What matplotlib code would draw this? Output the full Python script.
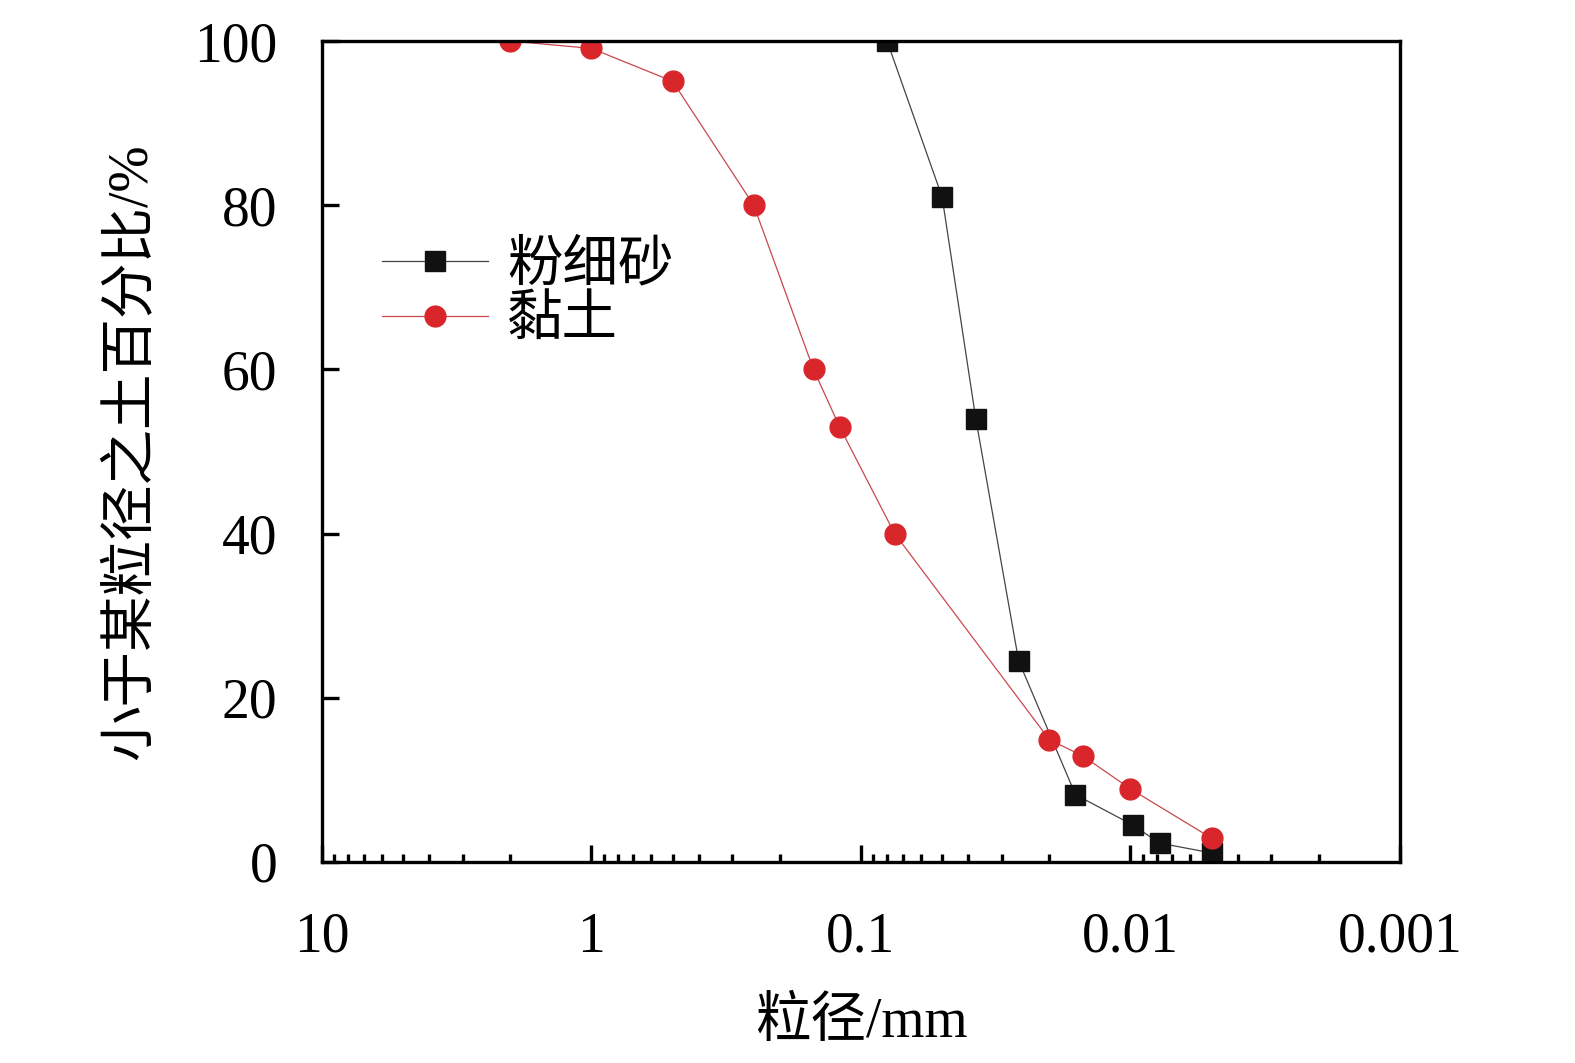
import matplotlib
matplotlib.use("Agg")
import matplotlib.pyplot as plt
from matplotlib.ticker import LogLocator, NullFormatter, FixedLocator

plt.rcParams['font.family'] = ['Liberation Serif', 'Noto Sans CJK SC']

sand_x = [0.08, 0.05, 0.0375, 0.026, 0.016, 0.0098, 0.0078, 0.005]
sand_y = [100, 81, 54, 24.5, 8.2, 4.5, 2.3, 1.1]
clay_x = [2.0, 1.0, 0.5, 0.25, 0.15, 0.12, 0.075, 0.02, 0.015, 0.01, 0.005]
clay_y = [100, 99.1, 95.1, 80, 60, 53, 40, 14.9, 12.9, 8.9, 2.9]
labels = ['粉细砂', '黏土']
xticks = [10, 1, 0.1, 0.01, 0.001]
xticklabels = ['10', '1', '0.1', '0.01', '0.001']
yticks = [0, 20, 40, 60, 80, 100]

fig = plt.figure(figsize=(15.75, 10.63), dpi=100)
ax = fig.add_axes([0.2044, 0.1891, 0.8889 - 0.2044, 0.9614 - 0.1891])

ax.plot(sand_x, sand_y, '-', color='#444444', lw=0.9, marker='s', ms=15,
        mfc='#111111', mec='#111111', label=labels[0])
ax.plot(clay_x, clay_y, '-', color='#c8484c', lw=0.9, marker='o', ms=15,
        mfc='#d9262b', mec='#d9262b', label=labels[1])

ax.set_xscale('log')
ax.set_xlim(10, 0.001)
ax.set_ylim(0, 100)
ax.xaxis.set_major_locator(FixedLocator(xticks))
ax.set_xticklabels(xticklabels)
ax.xaxis.set_minor_locator(LogLocator(base=10, subs=range(2, 10)))
ax.xaxis.set_minor_formatter(NullFormatter())
ax.set_yticks(yticks)
ax.set_yticklabels([str(v) for v in yticks])

for s in ax.spines.values():
    s.set_linewidth(2.4)
    s.set_color('#000000')
ax.tick_params(axis='both', which='major', direction='in', length=12, width=2.4,
               labelsize=40, top=False, right=False, color='#000000')
ax.tick_params(axis='x', which='minor', direction='in', length=6, width=2.4,
               top=False, color='#000000')
ax.tick_params(axis='x', which='major', pad=36)
ax.tick_params(axis='y', which='major', pad=32)

ax.set_xlabel('粒径/mm', fontsize=40, labelpad=24)
ax.set_ylabel('小于某粒径之土百分比/%', fontsize=40, labelpad=26)

leg = ax.legend(loc='upper left', bbox_to_anchor=(0.0557, 0.757), frameon=False,
                fontsize=40, handlelength=1.9, handletextpad=0.35,
                labelspacing=0.05, borderaxespad=0, borderpad=0)

fig.savefig('out.png', dpi=100)
